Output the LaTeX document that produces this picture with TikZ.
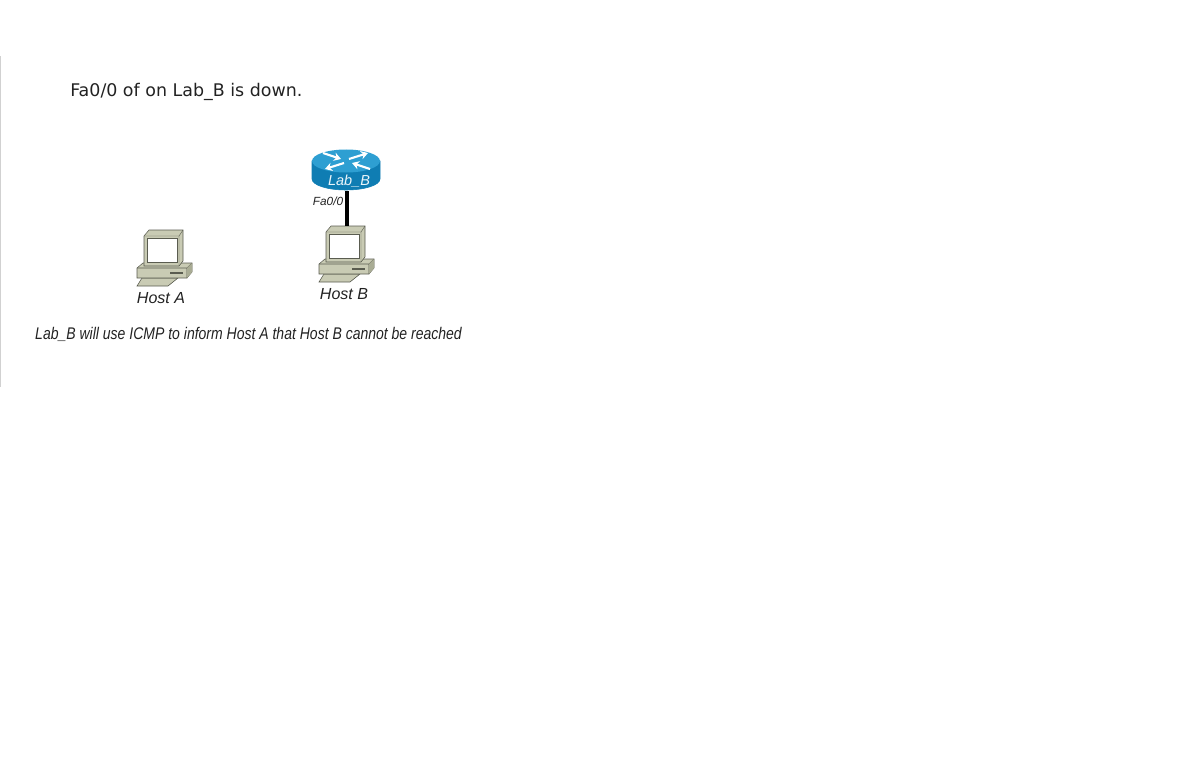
\documentclass[tikz,border=0pt]{standalone}
\usepackage{fontspec}
\setmainfont{Liberation Sans}
\newfontfamily\titlefont{DejaVu Sans}
\usetikzlibrary{arrows.meta}

\definecolor{hostbody}{HTML}{C9CBB4}
\definecolor{hostside}{HTML}{A9AC94}
\definecolor{hostedge}{HTML}{5A5C50}
\definecolor{routertop}{HTML}{2E9FD2}
\definecolor{routerbody}{HTML}{0F7DB3}
\definecolor{labeltext}{HTML}{222222}

\tikzset{
  label/.style={font=\itshape\fontsize{11.4}{13}\selectfont, text=labeltext, inner sep=0pt},
  link/.style={line width=2.2pt, black},
  flow/.style={-{Stealth[length=5pt, width=6pt]}, line width=1.5pt, white},
  host/.pic={
    \coordinate (-top) at (2,-28);
    % keyboard and base
    \filldraw[fill=hostbody, draw=hostedge, line width=.4pt] (-21,20) -- (15,20) -- (5,28) -- (-26,28) -- cycle;
    \filldraw[fill=hostbody, draw=hostedge, line width=.4pt] (-26,10) -- (-20,5) -- (29,5) -- (29,14) -- (24,20) -- (-26,20) -- cycle;
    \draw[hostedge, line width=.4pt] (-26,10) -- (24,10) -- (29,5) (24,10) -- (24,20);
    \fill[hostside] (24,10) -- (29,5) -- (29,14) -- (24,20) -- cycle;
    \draw[hostedge, line width=.8pt] (7,15) -- (20,15);
    % monitor
    \filldraw[fill=hostbody, draw=hostedge, line width=.4pt] (-19,-22) -- (-14,-28) -- (20,-28) -- (20,3) -- (16,8) -- (-19,8) -- cycle;
    \draw[hostedge, line width=.3pt] (-19,-22) -- (16,-22) -- (20,-28) (16,-22) -- (16,8);
    \filldraw[fill=white, draw=hostedge, line width=.5pt] (-16,-20) rectangle (14,4);
  },
  router/.pic={
    \coordinate (-base) at (1,30);
    \filldraw[fill=routerbody, draw=routerbody] (-34,0) -- (-34,18) arc[start angle=180, end angle=0, x radius=34, y radius=11] -- (34,0) -- cycle;
    \fill[routertop] (0,0) ellipse[x radius=34, y radius=11.5];
    \draw[flow] (-23,-8) -- (-5,-2);
    \draw[flow] (24,8) -- (6,2);
    \draw[flow] (-2,2) -- (-21,8);
    \draw[flow] (3,-2) -- (22,-8);
  }
}

\begin{document}
\begin{tikzpicture}[x=0.025cm, y=-0.025cm]
\useasboundingbox (0,0) rectangle (1200,768);

% Page edge
\fill[black!18] (0,56) rectangle (1.5,387);

% Title
\node (title) [anchor=west, inner sep=0pt, text=labeltext] at (70,91.5) {\titlefont\fontsize{12.4}{15}\selectfont Fa0/0 of on Lab\_B is down.};

% Devices
\pic (labB)  at (346,161) {router};
\pic (hostA) at (163,258) {host};
\pic (hostB) at (345,254) {host};

% Link
\draw[link] (labB-base) -- (hostB-top);

% Labels
\node (labBtext) [label, text=white!90!routertop, font=\itshape\fontsize{10.3}{12}\selectfont] at (349,181) {Lab\_B};
\node (fa)    [label, font=\itshape\fontsize{8.4}{10}\selectfont] at (328,201) {Fa0/0};
\node (nameA) [label] at (161,298) {Host A};
\node (nameB) [label] at (344,294) {Host B};
\node (note)  [label, anchor=west, xscale=.83, font=\itshape\fontsize{12}{14}\selectfont] at (35,334.5) {Lab\_B will use ICMP to inform Host A that Host B cannot be reached};

\end{tikzpicture}
\end{document}
